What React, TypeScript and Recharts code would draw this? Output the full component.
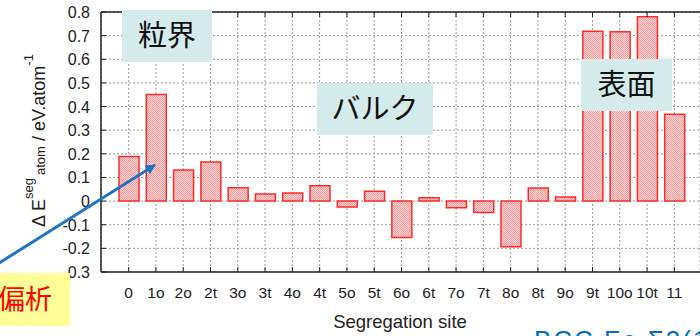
import { BarChart, Bar, XAxis, YAxis, CartesianGrid, ReferenceLine } from "recharts";

const sites = ["0", "1o", "2o", "2t", "3o", "3t", "4o", "4t", "5o", "5t", "6o", "6t", "7o", "7t", "8o", "8t", "9o", "9t", "10o", "10t", "11"];
const segEnergy = [0.189, 0.451, 0.132, 0.165, 0.056, 0.03, 0.034, 0.065, -0.025, 0.042, -0.154, 0.014, -0.028, -0.048, -0.193, 0.055, 0.017, 0.719, 0.716, 0.78, 0.367];
const energyTicks = [-0.3, -0.2, -0.1, 0, 0.1, 0.2, 0.3, 0.4, 0.5, 0.6, 0.7, 0.8];

const data = sites.map((site, i) => ({ site, energy: segEnergy[i] }));

const PLOT_TOP = 12;
const PLOT_BOTTOM = 272;
const PLOT_LEFT = 101;
const AXIS = "#222";
const SANS = "'Liberation Sans', Arial, sans-serif";
const JP = "'Noto Sans CJK JP', sans-serif";

function SiteTick({ x, payload }: any) {
  return (
    <g>
      <line x1={x} x2={x} y1={PLOT_BOTTOM} y2={PLOT_BOTTOM - 5} stroke={AXIS} />
      <line x1={x} x2={x} y1={PLOT_TOP} y2={PLOT_TOP + 5} stroke={AXIS} />
      <text x={x} y={298} textAnchor="middle" fontSize={15.5} fill="#222" fontFamily={SANS}>
        {payload.value}
      </text>
    </g>
  );
}

function EnergyTick({ y, payload }: any) {
  const v = payload.value;
  const label = Math.abs(v) < 1e-9 ? "0" : v.toFixed(1);
  return (
    <g>
      <line x1={PLOT_LEFT} x2={PLOT_LEFT + 5} y1={y} y2={y} stroke={AXIS} />
      <text x={90} y={y + 6} textAnchor="end" fontSize={16} fill="#222" fontFamily={SANS}>
        {label}
      </text>
    </g>
  );
}

function Callout({ x, y, w, h, text, bg, color, size, anchor = "middle" }: any) {
  const tx = anchor === "middle" ? x + w / 2 : x + 6;
  return (
    <g>
      <rect x={x} y={y} width={w} height={h} fill={bg} />
      <text x={tx} y={y + h / 2 + size * 0.36} textAnchor={anchor} fontSize={size} fill={color} fontFamily={JP}>
        {text}
      </text>
    </g>
  );
}

export default function App() {
  return (
    <div style={{ position: "absolute", left: 0, top: 0, width: 700, height: 336, overflow: "hidden", background: "#fff" }}>
      <BarChart width={700} height={336} data={data} margin={{ top: PLOT_TOP, right: 0, bottom: 34, left: 0 }}>
        <defs>
          <pattern id="checker" patternUnits="userSpaceOnUse" width={2} height={2}>
            <rect width={2} height={2} fill="#ffd6d6" />
            <rect width={1} height={1} fill="#ff9a9a" />
            <rect x={1} y={1} width={1} height={1} fill="#ff9a9a" />
          </pattern>
        </defs>
        <CartesianGrid stroke="#9a9a9a" strokeDasharray="2 2" />
        <XAxis
          dataKey="site"
          height={30}
          interval={0}
          padding={{ left: 14, right: 12 }}
          tickSize={0}
          tick={<SiteTick />}
          stroke={AXIS}
          strokeWidth={1.5}
        />
        <YAxis
          width={PLOT_LEFT}
          domain={[-0.3, 0.8]}
          ticks={energyTicks}
          interval={0}
          allowDataOverflow
          tickSize={0}
          tick={<EnergyTick />}
          stroke={AXIS}
          strokeWidth={1.5}
        />
        <ReferenceLine y={0.8} stroke={AXIS} strokeWidth={1.5} />
        <Bar dataKey="energy" barSize={20} fill="url(#checker)" stroke="#ff2a2a" strokeWidth={1.5} isAnimationActive={false} />
      </BarChart>

      <svg width={700} height={336} style={{ position: "absolute", left: 0, top: 0, pointerEvents: "none" }}>
        <defs>
          <marker id="head" viewBox="0 0 10 10" refX={9} refY={5} markerWidth={4} markerHeight={3.4} orient="auto" markerUnits="strokeWidth">
            <path d="M0,0 L10,5 L0,10 z" fill="#1f74c4" />
          </marker>
        </defs>

        {/* y axis title: ΔE^seg_atom / eV.atom^-1 */}
        <text transform="translate(45,227) rotate(-90)" fontFamily={SANS} fill="#222" fontSize={18}>
          <tspan>Δ E</tspan>
          <tspan fontSize={13} dy={-12}>seg</tspan>
          <tspan fontSize={13} dx={3} dy={12}>atom</tspan>
          <tspan> / eV.atom</tspan>
          <tspan fontSize={13} dy={-12}>-1</tspan>
        </text>

        <Callout x={122} y={10} w={90} h={52} text="粒界" bg="#d5eaeb" color="#111" size={29} />
        <Callout x={317} y={83} w={116} h={52} text="バルク" bg="#d5eaeb" color="#111" size={29} />
        <Callout x={581} y={59} w={91} h={52} text="表面" bg="#d5eaeb" color="#111" size={29} />
        <Callout x={-8} y={273} w={78} h={53} text="偏析" bg="#ffff99" color="#ff0000" size={27} anchor="start" />

        <line x1={-4} y1={265} x2={155} y2={165} stroke="#1f74c4" strokeWidth={3} markerEnd="url(#head)" />

        <text x={400} y={328} textAnchor="middle" fontSize={18.5} fill="#222" fontFamily={SANS}>
          Segregation site
        </text>
        <text x={534} y={349} fontSize={26} letterSpacing={2} fill="#0070c0" fontFamily={SANS}>
          BCC Fe Σ3(111)
        </text>
      </svg>
    </div>
  );
}
